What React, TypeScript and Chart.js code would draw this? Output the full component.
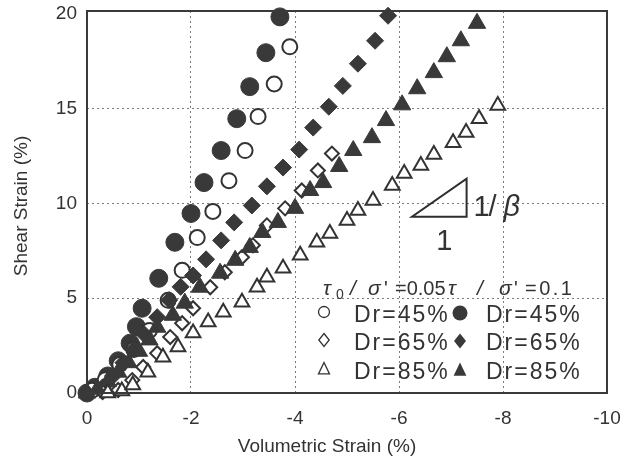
import React, { useEffect, useRef } from "react";
import { Chart, registerables } from "chart.js";

Chart.register(...registerables);

// ---- axis ticks ----
const X_TICKS = [0, -2, -4, -6, -8, -10];
const Y_TICKS = [0, 5, 10, 15, 20];

// ---- data: tau0/sigma' = 0.05 (open markers) ----
const dr45OpenX = [-0.1, -0.35, -0.63, -0.9, -1.2, -1.56, -1.83, -2.12, -2.42, -2.73, -3.04, -3.29, -3.6, -3.9];
const dr45OpenY = [0.15, 0.7, 1.5, 2.3, 3.3, 4.89, 6.47, 8.2, 9.58, 11.2, 12.79, 14.58, 16.3, 18.26];

const dr65OpenX = [-0.3, -0.6, -0.87, -1.08, -1.35, -1.6, -1.83, -2.04, -2.37, -2.65, -2.98, -3.19, -3.46, -3.81, -4.13, -4.44, -4.71];
const dr65OpenY = [0.05, 0.16, 0.68, 1.37, 2.1, 2.95, 3.68, 4.47, 5.58, 6.37, 7.16, 7.79, 8.84, 9.74, 10.68, 11.74, 12.63];

const dr85OpenX = [-0.4, -0.67, -0.88, -1.17, -1.46, -1.75, -2.04, -2.33, -2.62, -2.98, -3.27, -3.46, -3.77, -4.1, -4.42, -4.67, -5.0, -5.21, -5.5, -5.87, -6.1, -6.42, -6.67, -7.04, -7.29, -7.54, -7.9];
const dr85OpenY = [0, 0.1, 0.42, 1.1, 1.89, 2.42, 3.16, 3.74, 4.26, 4.79, 5.58, 6.1, 6.58, 7.26, 7.95, 8.42, 9.1, 9.63, 10.16, 10.95, 11.58, 12.0, 12.58, 13.2, 13.74, 14.47, 15.16];

// ---- data: tau0/sigma' = 0.1 (filled markers) ----
const dr45FillX = [0, -0.15, -0.4, -0.6, -0.83, -0.95, -1.06, -1.38, -1.69, -2.0, -2.25, -2.58, -2.88, -3.13, -3.44, -3.71];
const dr45FillY = [0, 0.3, 0.9, 1.7, 2.63, 3.5, 4.47, 6.05, 7.95, 9.47, 11.1, 12.79, 14.47, 16.16, 17.95, 19.84];

const dr65FillX = [0, -0.3, -0.5, -0.7, -0.9, -1.1, -1.35, -1.58, -1.8, -2.04, -2.29, -2.58, -2.83, -3.17, -3.46, -3.77, -4.08, -4.35, -4.65, -4.92, -5.21, -5.54, -5.79];
const dr65FillY = [0, 0.3, 0.9, 1.6, 2.3, 3.1, 4.0, 4.9, 5.6, 6.2, 7.05, 8.05, 9.0, 9.89, 10.9, 11.89, 12.84, 14.0, 15.1, 16.2, 17.37, 18.58, 19.9];

const dr85FillX = [0, -0.2, -0.4, -0.6, -0.8, -1.0, -1.2, -1.35, -1.65, -1.88, -2.17, -2.56, -2.85, -3.13, -3.37, -3.67, -4.0, -4.29, -4.54, -4.85, -5.12, -5.48, -5.75, -6.06, -6.35, -6.67, -6.92, -7.19, -7.5];
const dr85FillY = [0, 0.2, 0.6, 1.1, 1.6, 2.2, 2.8, 3.47, 4.1, 4.74, 5.58, 6.32, 7.0, 7.68, 8.47, 9.0, 9.74, 10.68, 11.1, 11.95, 12.79, 13.47, 14.37, 15.2, 16.05, 16.9, 17.74, 18.58, 19.5];

// ---- labels ----
const X_TITLE = "Volumetric Strain (%)";
const Y_TITLE = "Shear Strain (%)";
const LEGEND_ROWS = ["Dr=45%", "Dr=65%", "Dr=85%"];

const FONT = "'Liberation Sans', Arial, Helvetica, sans-serif";
const INK = "#393939";
const TEXT = "#333333";

export default function App() {
  const canvasRef = useRef<HTMLCanvasElement | null>(null);

  useEffect(() => {
    const canvas = canvasRef.current;
    if (!canvas) return;
    const pts = (xs: number[], ys: number[]) => xs.map((x, i) => ({ x, y: ys[i] }));

    const drawShape = (ctx: CanvasRenderingContext2D, kind: string, x: number, y: number, r: number, filled: boolean) => {
      ctx.beginPath();
      if (kind === "circle") {
        ctx.arc(x, y, r, 0, Math.PI * 2);
      } else if (kind === "diamond") {
        ctx.moveTo(x, y - r);
        ctx.lineTo(x + r * 0.8, y);
        ctx.lineTo(x, y + r);
        ctx.lineTo(x - r * 0.8, y);
        ctx.closePath();
      } else {
        ctx.moveTo(x, y - r);
        ctx.lineTo(x + r * 0.85, y + r * 0.75);
        ctx.lineTo(x - r * 0.85, y + r * 0.75);
        ctx.closePath();
      }
      if (filled) {
        ctx.fillStyle = INK;
        ctx.fill();
      } else {
        ctx.strokeStyle = TEXT;
        ctx.lineWidth = 1.3;
        ctx.stroke();
      }
    };

    const overlay = {
      id: "overlay",
      afterDraw(chart: any) {
        const { ctx, chartArea: a, scales } = chart;
        const xs = scales.x;
        const ys = scales.y;
        ctx.save();
        // frame
        ctx.strokeStyle = "#3a3a3a";
        ctx.lineWidth = 2;
        ctx.setLineDash([]);
        ctx.strokeRect(a.left, a.top, a.right - a.left, a.bottom - a.top);

        // axis titles
        ctx.fillStyle = TEXT;
        ctx.font = `19px ${FONT}`;
        ctx.textAlign = "center";
        ctx.textBaseline = "middle";
        ctx.fillText(X_TITLE, (a.left + a.right) / 2 - 20, 447);
        ctx.save();
        ctx.translate(22, (a.top + a.bottom) / 2 + 4);
        ctx.rotate(-Math.PI / 2);
        ctx.fillText(Y_TITLE, 0, 0);
        ctx.restore();

        // slope triangle 1/beta
        const p1x = xs.getPixelForValue(-6.25), p1y = ys.getPixelForValue(9.3);
        const p2x = xs.getPixelForValue(-7.3), p2y = ys.getPixelForValue(11.3);
        ctx.strokeStyle = "#2e2e2e";
        ctx.lineWidth = 2;
        ctx.beginPath();
        ctx.moveTo(p1x, p1y);
        ctx.lineTo(p2x, p1y);
        ctx.lineTo(p2x, p2y);
        ctx.closePath();
        ctx.stroke();
        ctx.fillStyle = TEXT;
        ctx.textAlign = "left";
        ctx.textBaseline = "alphabetic";
        ctx.font = `29px ${FONT}`;
        ctx.fillText("1", p2x + 7, p1y - 1);
        ctx.fillText("/", p2x + 22, p1y - 1);
        ctx.font = `italic 29px ${FONT}`;
        ctx.fillText("β", p2x + 37, p1y - 1);
        ctx.font = `29px ${FONT}`;
        ctx.textAlign = "center";
        ctx.fillText("1", (p1x + p2x) / 2 + 5, p1y + 33);

        // legend header
        ctx.textAlign = "left";
        ctx.textBaseline = "alphabetic";
        const hy = 295;
        ctx.font = `italic 21px ${FONT}`;
        ctx.fillText("τ", 323, hy);
        ctx.font = `14px ${FONT}`;
        ctx.fillText("0", 336, hy + 4);
        ctx.font = `italic 21px ${FONT}`;
        ctx.fillText("/", 350, hy);
        ctx.fillText("σ", 368, hy);
        ctx.font = `20px ${FONT}`;
        ctx.fillText("'", 384, hy);
        ctx.fillText("=0.05", 395, hy);
        ctx.font = `italic 21px ${FONT}`;
        ctx.fillText("τ", 448, hy);
        ctx.fillText("/", 477, hy);
        ctx.fillText("σ", 499, hy);
        ctx.font = `20px ${FONT}`;
        ctx.fillText("'", 514, hy);
        (ctx as any).letterSpacing = "2.5px";
        ctx.fillText("=0.1", 525, hy);

        // legend rows
        const kinds = ["circle", "diamond", "triangle"];
        const rowY = [316, 344, 373];
        ctx.font = `23px ${FONT}`;
        (ctx as any).letterSpacing = "2px";
        ctx.textBaseline = "middle";
        LEGEND_ROWS.forEach((label, i) => {
          const y = rowY[i];
          ctx.fillStyle = TEXT;
          ctx.fillText(label, 354, y);
          ctx.fillText(label, 486, y);
          drawShape(ctx, kinds[i], 324, y - 4, i === 0 ? 5.5 : 6.5, false);
          drawShape(ctx, kinds[i], 460, y - 3, 7.5, true);
        });
        (ctx as any).letterSpacing = "0px";
        ctx.restore();
      },
    };

    const openDs = (label: string, xsArr: number[], ysArr: number[], style: string, r: number) => ({
      label,
      data: pts(xsArr, ysArr),
      pointStyle: style,
      pointRadius: r,
      backgroundColor: "#ffffff",
      borderColor: TEXT,
      borderWidth: 2,
      showLine: false,
      clip: false as any,
    });
    const fillDs = (label: string, xsArr: number[], ysArr: number[], style: string, r: number) => ({
      label,
      data: pts(xsArr, ysArr),
      pointStyle: style,
      pointRadius: r,
      backgroundColor: INK,
      borderColor: INK,
      borderWidth: 1,
      showLine: false,
      clip: false as any,
    });

    const chart = new Chart(canvas, {
      type: "scatter",
      data: {
        datasets: [
          openDs("Dr=85% (0.05)", dr85OpenX, dr85OpenY, "triangle", 8.5),
          fillDs("Dr=85% (0.1)", dr85FillX, dr85FillY, "triangle", 10),
          openDs("Dr=65% (0.05)", dr65OpenX, dr65OpenY, "rectRot", 7),
          fillDs("Dr=65% (0.1)", dr65FillX, dr65FillY, "rectRot", 8.5),
          openDs("Dr=45% (0.05)", dr45OpenX, dr45OpenY, "circle", 7.5),
          fillDs("Dr=45% (0.1)", dr45FillX, dr45FillY, "circle", 9),
        ],
      },
      options: {
        responsive: false,
        animation: false,
        events: [],
        layout: { padding: { top: 8, right: 16, left: 0, bottom: 0 } },
        plugins: {
          legend: { display: false },
          tooltip: { enabled: false },
          title: { display: false },
        },
        scales: {
          x: {
            type: "linear",
            reverse: true,
            min: -10,
            max: 0,
            afterBuildTicks: (s: any) => {
              s.ticks = X_TICKS.map((v) => ({ value: v }));
            },
            afterFit: (s: any) => {
              s.height = 72;
              s.paddingLeft = 0;
              s.paddingRight = 0;
            },
            grid: {
              drawTicks: false,
              lineWidth: 1,
              color: (c: any) => (c.tick && c.tick.value !== 0 && c.tick.value !== -10 ? "#7a7a7a" : "rgba(0,0,0,0)"),
            },
            border: { display: false, dash: [2, 3] },
            ticks: {
              padding: 14,
              color: TEXT,
              font: { family: FONT, size: 19 },
              maxRotation: 0,
              callback: (v: any) => String(v),
            },
          },
          y: {
            type: "linear",
            min: 0,
            max: 20.15,
            afterBuildTicks: (s: any) => {
              s.ticks = Y_TICKS.map((v) => ({ value: v }));
            },
            afterFit: (s: any) => {
              s.width = 87;
              s.paddingTop = 0;
              s.paddingBottom = 0;
            },
            grid: {
              drawTicks: false,
              lineWidth: 1,
              color: (c: any) => (c.tick && c.tick.value !== 0 && c.tick.value !== 20 ? "#7a7a7a" : "rgba(0,0,0,0)"),
            },
            border: { display: false, dash: [2, 3] },
            ticks: {
              padding: 10,
              color: TEXT,
              font: { family: FONT, size: 19 },
              callback: (v: any) => String(v),
            },
          },
        },
      },
      plugins: [overlay],
    } as any);

    return () => chart.destroy();
  }, []);

  return (
    <div style={{ position: "absolute", left: 0, top: 0, width: 623, height: 465, background: "#ffffff" }}>
      <canvas ref={canvasRef} width={623} height={465} style={{ width: 623, height: 465, display: "block" }} />
    </div>
  );
}
